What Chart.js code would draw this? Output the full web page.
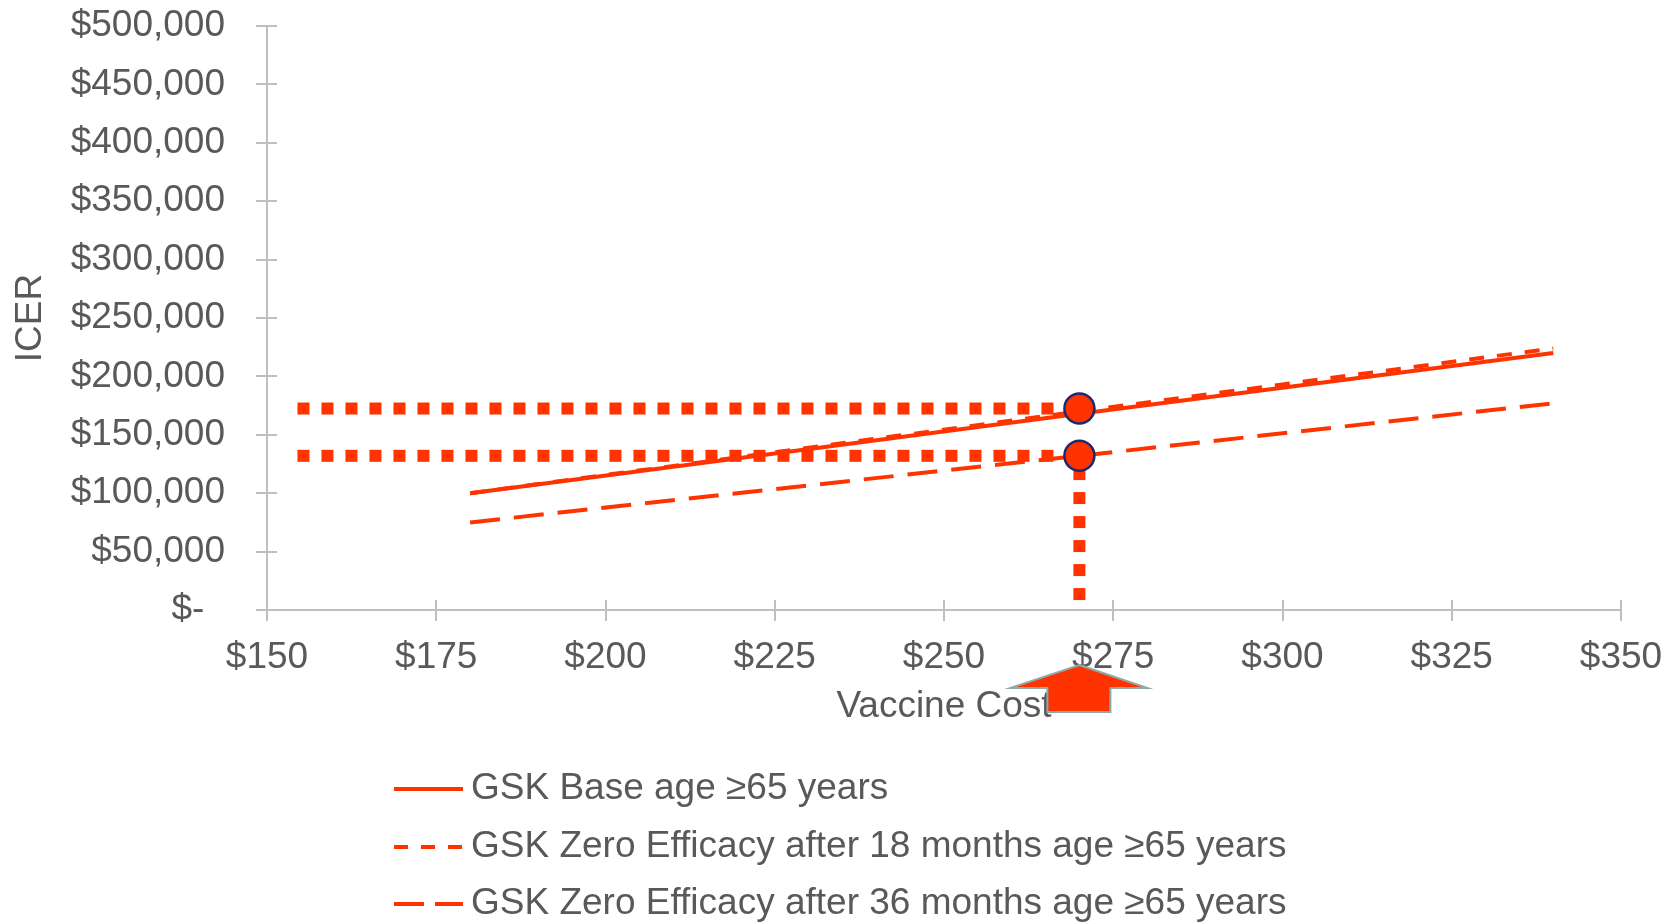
<!DOCTYPE html>
<html>
<head>
<meta charset="utf-8">
<script src="https://cdn.jsdelivr.net/npm/chart.js@4/dist/chart.umd.min.js"></script>
<style>
  html, body { margin: 0; padding: 0; background: #fff; }
  #wrap { width: 1677px; height: 922px; position: relative; }
</style>
</head>
<body>
<div id="wrap"><canvas id="icer"></canvas></div>
<script>
// values
const vaccineCost = [180, 270, 340]
const baseAge65 = [100000, 168000, 220000]
const zero18Months = [100000, 170000, 224000]
const zero36Months = [75000, 132000, 177000]

const seriesLabels = [
  'GSK Base age \u226565 years',
  'GSK Zero Efficacy after 18 months age \u226565 years',
  'GSK Zero Efficacy after 36 months age \u226565 years'
]

// highlighted price and the two ICERs it gives
const highlightCost = 270
const highlightIcer = [172500, 132000]
const guideStartCost = 154.5
const guideBottomIcer = 8500

const xTickLabels = ['$150', '$175', '$200', '$225', '$250', '$275', '$300', '$325', '$350']
const yTickLabels = ['$-  ', '$50,000', '$100,000', '$150,000', '$200,000', '$250,000',
  '$300,000', '$350,000', '$400,000', '$450,000', '$500,000']

const ORANGE = '#FF3300'
const TEXT = '#595959'
const AXIS = '#BFBFBF'
const FONT = { family: '"Liberation Sans", Arial, sans-serif', size: 37 }

const toPoints = (xs, ys) => xs.map((x, i) => ({ x: x, y: ys[i] }))

const legendDash = [[], [14, 13], [30, 11]]

// tick marks that cross the axis lines
const crossTicks = {
  id: 'crossTicks',
  afterDraw(chart) {
    const { ctx, chartArea, scales } = chart
    ctx.save()
    ctx.strokeStyle = AXIS
    ctx.lineWidth = 2
    ctx.beginPath()
    scales.x.ticks.forEach(t => {
      const x = Math.round(scales.x.getPixelForValue(t.value))
      ctx.moveTo(x, chartArea.bottom - 10)
      ctx.lineTo(x, chartArea.bottom + 11)
    })
    scales.y.ticks.forEach(t => {
      const y = Math.round(scales.y.getPixelForValue(t.value))
      ctx.moveTo(chartArea.left - 11, y)
      ctx.lineTo(chartArea.left + 10, y)
    })
    ctx.stroke()
    ctx.restore()
  }
}

// the block arrow under the x axis pointing at the highlighted cost
const costArrow = {
  id: 'costArrow',
  afterDraw(chart) {
    const { ctx, chartArea, scales } = chart
    const x0 = scales.x.getPixelForValue(highlightCost)
    const b = chartArea.bottom
    ctx.save()
    ctx.beginPath()
    ctx.moveTo(x0, b + 55)
    ctx.lineTo(x0 + 68, b + 78)
    ctx.lineTo(x0 + 31, b + 78)
    ctx.lineTo(x0 + 31, b + 102)
    ctx.lineTo(x0 - 32, b + 102)
    ctx.lineTo(x0 - 32, b + 78)
    ctx.lineTo(x0 - 69, b + 78)
    ctx.closePath()
    ctx.fillStyle = ORANGE
    ctx.fill()
    ctx.strokeStyle = '#8FA9A9'
    ctx.lineWidth = 2
    ctx.stroke()
    ctx.restore()
  }
}

// legend stacked one entry per row, left aligned
const rowLegend = {
  id: 'rowLegend',
  afterDraw(chart) {
    const { ctx, chartArea } = chart
    const rows = [179, 237, 294]
    ctx.save()
    ctx.font = FONT.size + 'px ' + FONT.family
    ctx.textBaseline = 'middle'
    ctx.fillStyle = TEXT
    seriesLabels.forEach((label, i) => {
      const y = chartArea.bottom + rows[i]
      ctx.strokeStyle = ORANGE
      ctx.lineWidth = 4
      ctx.setLineDash(legendDash[i])
      ctx.beginPath()
      ctx.moveTo(394, y)
      ctx.lineTo(463, y)
      ctx.stroke()
      ctx.setLineDash([])
      ctx.fillText(label, 471, y)
    })
    ctx.restore()
  }
}

const seriesStyle = {
  type: 'line',
  borderColor: ORANGE,
  borderWidth: 4,
  pointRadius: 0,
  tension: 0,
  order: 1
}

const guideStyle = {
  type: 'line',
  borderColor: ORANGE,
  borderWidth: 12,
  borderDash: [12, 12],
  borderCapStyle: 'butt',
  pointRadius: 0,
  order: 2
}

new Chart(document.getElementById('icer'), {
  type: 'line',
  data: {
    datasets: [
      Object.assign({ label: seriesLabels[0], data: toPoints(vaccineCost, baseAge65) }, seriesStyle),
      Object.assign({ label: seriesLabels[1], data: toPoints(vaccineCost, zero18Months), borderDash: [15, 13] }, seriesStyle),
      Object.assign({ label: seriesLabels[2], data: toPoints(vaccineCost, zero36Months), borderDash: [30, 14] }, seriesStyle),
      Object.assign({ data: [{ x: guideStartCost, y: highlightIcer[0] }, { x: highlightCost, y: highlightIcer[0] }] }, guideStyle),
      Object.assign({ data: [{ x: guideStartCost, y: highlightIcer[1] }, { x: highlightCost, y: highlightIcer[1] }] }, guideStyle),
      Object.assign({ data: [{ x: highlightCost, y: guideBottomIcer }, { x: highlightCost, y: highlightIcer[1] }] }, guideStyle),
      {
        type: 'line',
        showLine: false,
        data: highlightIcer.map(v => ({ x: highlightCost, y: v })),
        pointRadius: 15,
        pointBackgroundColor: ORANGE,
        pointBorderColor: '#1F2A6E',
        pointBorderWidth: 2.5,
        order: 0
      }
    ]
  },
  options: {
    responsive: true,
    maintainAspectRatio: false,
    animation: false,
    layout: { padding: { top: 26, right: 56, bottom: 193, left: 0 } },
    plugins: {
      legend: { display: false },
      tooltip: { enabled: false }
    },
    scales: {
      x: {
        type: 'linear',
        min: 150,
        max: 350,
        // invisible tick marks only push the labels away from the axis
        grid: { display: true, drawOnChartArea: false, tickLength: 26, color: 'rgba(0,0,0,0)' },
        border: { color: AXIS, width: 2 },
        ticks: {
          stepSize: 25,
          padding: 0,
          color: TEXT,
          font: FONT,
          maxRotation: 0,
          callback: (v, i) => xTickLabels[i]
        },
        title: { display: true, text: 'Vaccine Cost', color: TEXT, font: FONT, padding: 0 },
        afterFit: s => { s.height = 119 }
      },
      y: {
        min: 0,
        max: 500000,
        grid: { display: true, drawOnChartArea: false, tickLength: 42, color: 'rgba(0,0,0,0)' },
        border: { color: AXIS, width: 2 },
        ticks: {
          stepSize: 50000,
          padding: 0,
          color: TEXT,
          font: FONT,
          callback: (v, i) => yTickLabels[i]
        },
        title: { display: true, text: 'ICER', color: TEXT, font: FONT, padding: { top: 9, bottom: 0 } },
        afterFit: s => { s.width = 267 }
      }
    }
  },
  plugins: [crossTicks, costArrow, rowLegend]
})
</script>
</body>
</html>
